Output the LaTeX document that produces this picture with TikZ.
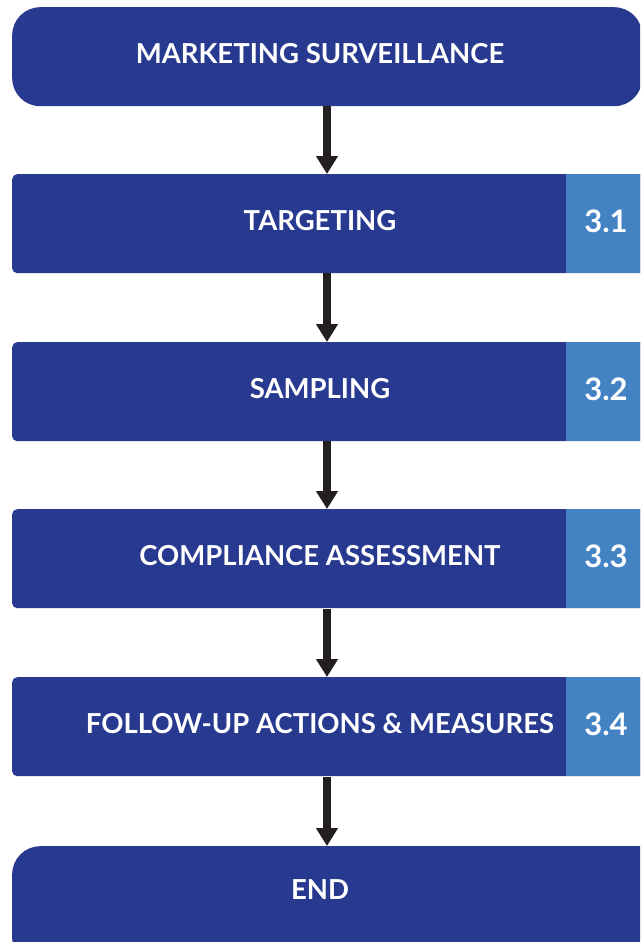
\documentclass[tikz,border=0pt]{standalone}
\usepackage{fontspec}
\setmainfont{Lato}
\usetikzlibrary{arrows.meta}
\definecolor{darkblue}{HTML}{283A8F}
\definecolor{tabblue}{HTML}{4383C4}
\definecolor{arrowblack}{HTML}{231F20}
\tikzset{
  box/.style={fill=darkblue, draw=none, rectangle, rounded corners=5pt, minimum width=640pt, minimum height=99pt, anchor=north west, inner sep=0pt},
  endbox/.style={box, rounded corners=28pt},
  tabbox/.style={fill=tabblue, draw=none, rectangle, minimum width=80pt, minimum height=99pt, anchor=north west, inner sep=0pt},
  lbl/.style={text=white, font=\bfseries\fontsize{27.5}{32}\selectfont, inner sep=0pt},
  num/.style={text=white, font=\bfseries\fontsize{31}{35}\selectfont, inner sep=0pt},
  flow/.style={draw=arrowblack, line width=7.5pt, -{Triangle[width=21pt,length=18pt]}},
}
\begin{document}
\begin{tikzpicture}[x=1pt,y=1pt]
\useasboundingbox (0,0) rectangle (640,-942);
\clip (0,0) rectangle (640,-942);
\fill[white] (0,0) rectangle (640,-942);
% boxes
\node[endbox, minimum width=630pt] (b0) at (12,-7) {};
\node[box, minimum width=660pt] (b1) at (12,-174) {};
\node[box, minimum width=660pt] (b2) at (12,-342) {};
\node[box, minimum width=660pt] (b3) at (12,-509) {};
\node[box, minimum width=660pt] (b4) at (12,-677) {};
\node[endbox, minimum width=660pt, minimum height=120pt] (b5) at (12,-846) {};
% tabs
\node[tabbox] (t1) at (566,-174) {};
\node[tabbox] (t2) at (566,-342) {};
\node[tabbox] (t3) at (566,-509) {};
\node[tabbox] (t4) at (566,-677) {};
% labels
\node[lbl] (l0) at (320,-54) {MARKETING SURVEILLANCE};
\node[lbl] (l1) at (320,-221) {TARGETING};
\node[lbl] (l2) at (320,-389) {SAMPLING};
\node[lbl] (l3) at (320,-556) {COMPLIANCE ASSESSMENT};
\node[lbl] (l4) at (320,-724) {FOLLOW-UP ACTIONS \& MEASURES};
\node[lbl] (l5) at (320,-890) {END};
\node[num] (n1) at (606,-221) {3.1};
\node[num] (n2) at (606,-389) {3.2};
\node[num] (n3) at (606,-556) {3.3};
\node[num] (n4) at (606,-724) {3.4};
% arrows
\coordinate (a0) at (327,-106);
\coordinate (a1) at (327,-273);
\coordinate (a2) at (327,-441);
\coordinate (a3) at (327,-609);
\coordinate (a4) at (327,-777);
\draw[flow] (a0) -- (a0 |- b1.north);
\draw[flow] (a1) -- (a1 |- b2.north);
\draw[flow] (a2) -- (a2 |- b3.north);
\draw[flow] (a3) -- (a3 |- b4.north);
\draw[flow] (a4) -- (a4 |- b5.north);
\end{tikzpicture}
\end{document}
